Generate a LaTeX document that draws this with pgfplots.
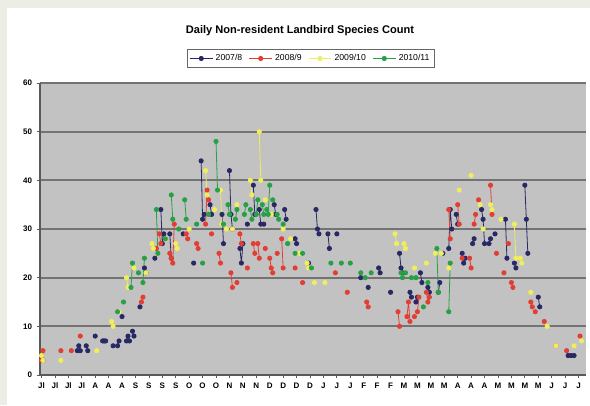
\documentclass[border=0pt]{standalone}
\usepackage{fontspec}
\setmainfont{Liberation Sans}
\usepackage{pgfplots}
\pgfplotsset{compat=1.18}
\definecolor{bgbeige}{RGB}{236,237,229}
\definecolor{plotgrey}{RGB}{194,194,194}
\definecolor{gridgrey}{RGB}{115,115,115}
\definecolor{cnavy}{RGB}{40,40,100}
\definecolor{cred}{RGB}{226,62,52}
\definecolor{cyellow}{RGB}{240,238,90}
\definecolor{cgreen}{RGB}{40,160,70}
\begin{document}
\begin{tikzpicture}
\fill[bgbeige] (0pt,0pt) rectangle (442.5pt,-303.75pt);
\fill[white] (5.25pt,-6pt) rectangle (442.5pt,-303.75pt);
\begin{axis}[
  at={(30pt,-281.25pt)}, anchor=south west,
  scale only axis, width=409.5pt, height=219pt,
  xmin=-1, xmax=365, ymin=0, ymax=60,
  axis background/.style={fill=plotgrey},
  axis lines*=left,
  axis line style={draw=black!65, line width=0.9pt},
  ytick={0,10,...,60},
  xtick={0,9,...,360},
  xticklabels={Jl,Jl,Jl,Jl,A,A,A,S,S,S,S,O,O,O,N,N,N,D,D,D,D,J,J,J,F,F,F,M,M,M,M,A,A,A,M,M,M,M,J,J,J},
  ymajorgrids, grid style={draw=gridgrey, line width=1.3pt},
  tick align=outside, major tick length=2.5pt,
  tick style={draw=black!65, line width=0.6pt},
  tick label style={font=\bfseries\fontsize{6}{7}\selectfont},
  /pgf/number format/assume math mode=true,
  unbounded coords=jump,
  every axis plot/.append style={line width=0.6pt, mark=*, mark size=1.6pt, mark options={solid}},
  legend style={at={(0.496,1.084)}, anchor=center, legend columns=4,
    font=\fontsize{6.5}{7}\selectfont, draw=black!60, fill=white,
    inner sep=1.5pt,
    /tikz/every even column/.append style={column sep=3pt}},
  clip=false,
]
\addplot[color=cnavy] coordinates {
(0,4) (1,3) (2,nan)
(24,5) (25,6) (26,5) (27,nan)
(30,6) (31,5) (32,nan)
(36,8) (37,nan)
(41,7) (42,7) (43,7) (44,nan)
(48,6) (49,nan)
(51,6) (52,7) (53,nan)
(54,12) (55,nan)
(57,7) (58,8) (59,7) (60,nan)
(61,9) (62,8) (63,nan)
(66,14) (67,nan)
(69,22) (70,21) (71,nan)
(76,24) (77,nan)
(80,34) (81,27) (82,29) (83,nan)
(86,29) (87,24) (88,nan)
(95,29) (96,nan)
(102,23) (103,nan)
(107,44) (108,32) (109,33) (110,nan)
(113,35) (114,33) (115,nan)
(121,33) (122,27) (123,nan)
(126,42) (127,33) (128,30) (129,nan)
(133,26) (134,23) (135,27) (136,nan)
(138,31) (139,nan)
(142,39) (143,33) (144,nan)
(146,34) (147,31) (148,nan)
(149,31) (150,nan)
(156,35) (157,33) (158,nan)
(163,34) (164,32) (165,nan)
(170,28) (171,27) (172,nan)
(179,23) (180,nan)
(184,34) (185,30) (186,29) (187,nan)
(192,29) (193,26) (194,nan)
(198,29) (199,nan)
(214,20) (215,nan)
(219,18) (220,nan)
(226,22) (227,21) (228,nan)
(234,17) (235,nan)
(240,25) (241,22) (242,21) (243,nan)
(247,17) (248,16) (249,nan)
(251,15) (252,16) (253,nan)
(254,21) (255,19) (256,nan)
(259,18) (260,17) (261,nan)
(266,17) (267,19) (268,nan)
(269,25) (270,nan)
(273,26) (274,34) (275,30) (276,nan)
(278,33) (279,31) (280,nan)
(282,25) (283,23) (284,24) (285,nan)
(289,27) (290,28) (291,nan)
(295,34) (296,32) (297,27) (298,nan)
(300,27) (301,28) (302,nan)
(304,29) (305,nan)
(311,32) (312,24) (313,nan)
(317,23) (318,22) (319,nan)
(324,39) (325,32) (326,25) (327,nan)
(333,16) (334,14) (335,nan)
(353,4) (355,4) (356,nan)
(357,4)
};
\addlegendentry{2007/8}
\addplot[color=cred] coordinates {
(0,3) (1,5) (2,nan)
(13,5) (14,nan)
(20,5) (21,nan)
(26,8) (27,nan)
(67,15) (68,16) (69,nan)
(77,26) (78,nan)
(79,29) (80,27) (81,nan)
(86,25) (87,24) (88,23) (89,31) (90,nan)
(97,29) (98,28) (99,nan)
(104,27) (105,26) (106,nan)
(110,31) (111,38) (112,36) (113,nan)
(114,29) (115,nan)
(119,25) (120,23) (121,nan)
(127,21) (128,18) (129,nan)
(131,19) (132,nan)
(133,29) (134,27) (135,nan)
(138,22) (139,nan)
(142,27) (143,25) (144,nan)
(145,27) (146,24) (147,nan)
(150,26) (151,nan)
(153,24) (154,22) (155,21) (156,nan)
(158,25) (159,nan)
(161,28) (162,22) (163,nan)
(170,22) (171,nan)
(175,19) (176,nan)
(197,21) (198,nan)
(205,17) (206,nan)
(218,15) (219,14) (220,nan)
(239,13) (240,10) (241,nan)
(245,12) (246,15) (247,11) (248,nan)
(250,12) (251,nan)
(252,13) (253,16) (254,nan)
(258,17) (259,15) (260,16) (261,nan)
(273,34) (274,28) (275,nan)
(279,35) (280,31) (281,nan)
(282,24) (283,nan)
(287,24) (288,22) (289,nan)
(290,31) (291,33) (292,nan)
(293,36) (294,nan)
(301,39) (302,33) (303,nan)
(305,25) (306,nan)
(310,21) (311,nan)
(313,27) (314,nan)
(315,19) (316,18) (317,nan)
(328,15) (329,14) (330,nan)
(331,13) (332,nan)
(337,11) (338,nan)
(345,6) (346,nan)
(352,5) (353,nan)
(361,8)
};
\addlegendentry{2008/9}
\addplot[color=cyellow] coordinates {
(0,4) (1,3) (2,nan)
(13,3) (14,nan)
(37,5) (38,nan)
(47,11) (48,10) (49,nan)
(52,13) (53,nan)
(57,20) (58,18) (59,nan)
(62,22) (63,nan)
(70,21) (71,nan)
(74,27) (75,26) (76,nan)
(83,28) (84,nan)
(90,27) (91,26) (92,nan)
(99,30) (100,nan)
(110,42) (111,37) (112,nan)
(116,34) (117,nan)
(120,38) (121,31) (122,nan)
(124,30) (125,nan)
(128,30) (129,nan)
(131,35) (132,nan)
(140,40) (141,37) (142,nan)
(146,50) (147,40) (148,nan)
(150,36) (151,nan)
(154,33) (155,nan)
(162,30) (163,nan)
(167,28) (168,nan)
(173,25) (174,nan)
(178,23) (179,22) (180,nan)
(183,19) (184,nan)
(190,19) (191,nan)
(237,29) (238,27) (239,nan)
(243,27) (244,26) (245,nan)
(250,22) (251,nan)
(258,23) (259,nan)
(264,25) (265,nan)
(268,25) (269,nan)
(273,22) (274,nan)
(280,38) (281,nan)
(288,41) (289,nan)
(294,35) (295,nan)
(296,30) (297,nan)
(301,35) (302,34) (303,nan)
(308,32) (309,nan)
(317,31) (318,24) (319,nan)
(321,24) (322,23) (323,nan)
(328,17) (329,nan)
(339,10) (340,nan)
(345,6) (346,nan)
(357,6) (358,nan)
(362,7)
};
\addlegendentry{2009/10}
\addplot[color=cgreen] coordinates {
(51,13) (52,nan)
(55,15) (56,nan)
(60,18) (61,23) (62,nan)
(65,21) (66,nan)
(68,19) (69,24) (70,nan)
(77,34) (78,25) (79,nan)
(83,28) (84,nan)
(87,37) (88,32) (89,nan)
(92,30) (93,nan)
(96,36) (97,32) (98,nan)
(104,31) (105,nan)
(108,23) (109,nan)
(112,33) (113,nan)
(117,48) (118,38) (119,nan)
(122,31) (123,nan)
(125,35) (126,33) (127,nan)
(130,32) (131,34) (132,nan)
(136,33) (137,35) (138,nan)
(140,34) (141,32) (142,nan)
(144,33) (145,36) (146,nan)
(148,35) (149,33) (150,nan)
(151,34) (152,33) (153,39) (154,nan)
(155,36) (156,nan)
(158,33) (159,32) (160,nan)
(162,31) (163,nan)
(165,27) (166,nan)
(170,25) (171,nan)
(175,25) (176,nan)
(181,22) (182,nan)
(194,23) (195,nan)
(201,23) (202,nan)
(207,23) (208,nan)
(214,21) (215,nan)
(217,20) (218,nan)
(221,21) (222,nan)
(241,21) (242,20) (243,nan)
(244,21) (245,nan)
(248,20) (249,nan)
(251,20) (252,nan)
(256,14) (257,nan)
(259,19) (260,nan)
(265,26) (266,17) (267,nan)
(273,13) (274,23)
};
\addlegendentry{2010/11}
\end{axis}
\node[font=\bfseries\fontsize{8.3}{10}\selectfont] at (225pt,-23.25pt) {Daily Non-resident Landbird Species Count};
\end{tikzpicture}
\end{document}
